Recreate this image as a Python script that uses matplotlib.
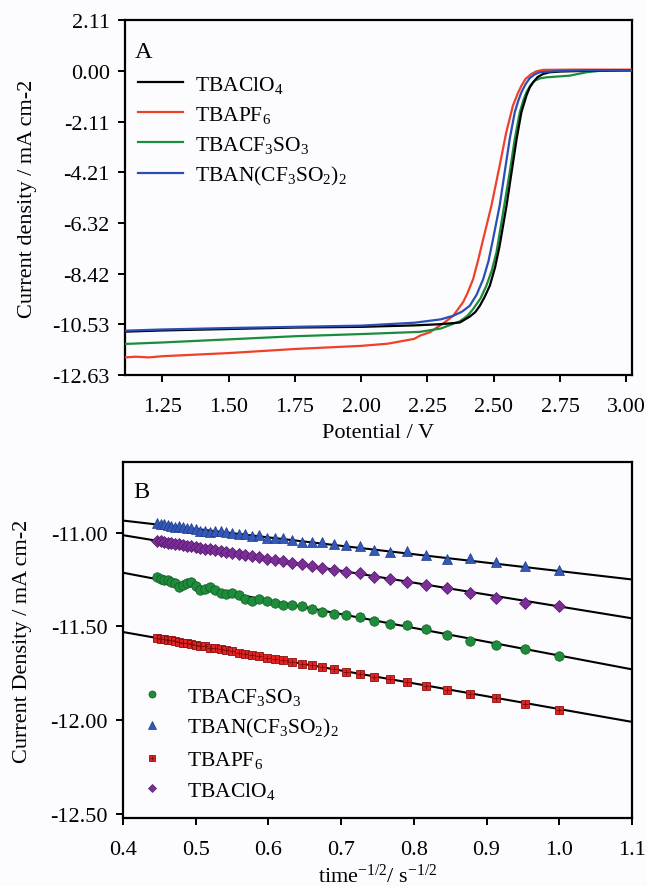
import numpy as np
import matplotlib
matplotlib.use("Agg")
import matplotlib.pyplot as plt
from matplotlib.legend_handler import HandlerTuple

plt.rcParams['font.family'] = ['Liberation Serif', 'DejaVu Serif']
plt.rcParams['mathtext.fontset'] = 'custom'
plt.rcParams['mathtext.rm'] = 'Liberation Serif'
plt.rcParams['mathtext.it'] = 'Liberation Serif:italic'
plt.rcParams['axes.unicode_minus'] = False

# ---- Panel A: linear sweep curves (potential / V, current density / mA cm-2)
pot_clo4 = [1.11, 1.25, 1.50, 1.75, 2.00, 2.20, 2.30, 2.372, 2.41, 2.43, 2.447, 2.465, 2.485,
            2.505, 2.522, 2.548, 2.567, 2.586, 2.604, 2.623, 2.635, 2.648, 2.665, 2.686, 2.71,
            2.749, 2.85, 3.02]
cur_clo4 = [-10.83, -10.78, -10.72, -10.66, -10.63, -10.57, -10.52, -10.45, -10.20, -10.02, -9.76,
            -9.40, -8.92, -8.15, -7.26, -5.60, -4.21, -2.83, -1.72, -1.03, -0.70, -0.48, -0.26,
            -0.13, -0.06, -0.03, 0.0, 0.02]

pot_pf6 = [1.11, 1.15, 1.20, 1.25, 1.50, 1.75, 2.00, 2.10, 2.20, 2.221, 2.26, 2.296, 2.32, 2.347,
           2.384, 2.40, 2.422, 2.44, 2.460, 2.491, 2.522, 2.547, 2.572, 2.590, 2.604, 2.62, 2.642,
           2.66, 2.686, 2.80, 3.02]
cur_pf6 = [-11.90, -11.87, -11.90, -11.85, -11.72, -11.55, -11.42, -11.33, -11.13, -11.00, -10.85,
           -10.58, -10.40, -10.17, -9.61, -9.25, -8.65, -7.90, -6.99, -5.60, -3.94, -2.55, -1.45,
           -0.95, -0.62, -0.33, -0.13, -0.02, 0.04, 0.05, 0.05]

pot_cf3so3 = [1.11, 1.25, 1.50, 1.75, 2.00, 2.22, 2.30, 2.372, 2.40, 2.422, 2.45, 2.472, 2.492,
              2.510, 2.535, 2.560, 2.579, 2.598, 2.612, 2.623, 2.638, 2.654, 2.675, 2.698, 2.786,
              2.849, 2.899, 3.02]
cur_cf3so3 = [-11.34, -11.28, -11.15, -11.02, -10.93, -10.84, -10.70, -10.40, -10.18, -9.89, -9.45,
              -8.92, -8.30, -7.54, -5.88, -4.21, -2.83, -1.72, -1.20, -0.89, -0.60, -0.41, -0.31,
              -0.27, -0.20, -0.06, 0.0, 0.02]

pot_ntf2 = [1.11, 1.25, 1.50, 1.75, 2.00, 2.20, 2.30, 2.347, 2.38, 2.409, 2.435, 2.460, 2.480,
            2.497, 2.522, 2.541, 2.560, 2.579, 2.592, 2.604, 2.62, 2.635, 2.655, 2.673, 2.749,
            2.85, 3.02]
cur_ntf2 = [-10.79, -10.74, -10.68, -10.63, -10.58, -10.46, -10.32, -10.17, -10.00, -9.76, -9.30,
            -8.65, -7.90, -6.99, -5.60, -4.21, -2.83, -1.72, -1.25, -0.89, -0.55, -0.31, -0.14,
            -0.06, 0.0, 0.02, 0.02]

a_yticks = [2.11, 0.00, -2.11, -4.21, -6.32, -8.42, -10.53, -12.63]
a_xticks = [1.25, 1.50, 1.75, 2.00, 2.25, 2.50, 2.75, 3.00]

# ---- Panel B: current density against time^-1/2
inv_sqrt_t = [0.4472, 0.4518, 0.4564, 0.4613, 0.4663, 0.4714, 0.4767, 0.4822, 0.4880, 0.4939,
              0.5000, 0.5064, 0.5130, 0.5199, 0.5270, 0.5345, 0.5423, 0.5505, 0.5590, 0.5680,
              0.5774, 0.5872, 0.5976, 0.6086, 0.6202, 0.6325, 0.6455, 0.6594, 0.6742, 0.6901,
              0.7071, 0.7255, 0.7454, 0.7670, 0.7906, 0.8165, 0.8452, 0.8771, 0.9129, 0.9535,
              1.0000]

j_cf3so3 = [-11.236, -11.250, -11.254, -11.255, -11.262, -11.268, -11.289, -11.282, -11.270, -11.262,
            -11.286, -11.307, -11.300, -11.291, -11.307, -11.324, -11.330, -11.324, -11.335, -11.353,
            -11.365, -11.356, -11.365, -11.378, -11.388, -11.388, -11.392, -11.406, -11.424, -11.436,
            -11.438, -11.448, -11.472, -11.486, -11.495, -11.516, -11.544, -11.576, -11.601, -11.621,
            -11.658]

j_ntf2 = [-10.950, -10.955, -10.957, -10.960, -10.964, -10.968, -10.966, -10.972, -10.976, -10.977,
          -10.980, -10.990, -10.993, -10.995, -10.992, -10.994, -10.998, -11.000, -11.009, -11.010,
          -11.018, -11.014, -11.028, -11.030, -11.030, -11.038, -11.048, -11.049, -11.052, -11.060,
          -11.066, -11.069, -11.091, -11.106, -11.100, -11.120, -11.139, -11.138, -11.158, -11.176,
          -11.200]

j_pf6 = [-11.564, -11.566, -11.569, -11.573, -11.575, -11.580, -11.583, -11.586, -11.591, -11.593,
         -11.598, -11.603, -11.606, -11.613, -11.617, -11.621, -11.628, -11.632, -11.640, -11.646,
         -11.650, -11.657, -11.666, -11.672, -11.681, -11.688, -11.699, -11.706, -11.718, -11.727,
         -11.741, -11.752, -11.770, -11.782, -11.796, -11.817, -11.839, -11.862, -11.879, -11.911,
         -11.945]

j_clo4 = [-11.046, -11.047, -11.051, -11.053, -11.055, -11.059, -11.062, -11.066, -11.069, -11.073,
          -11.077, -11.082, -11.085, -11.090, -11.095, -11.098, -11.104, -11.110, -11.114, -11.121,
          -11.126, -11.132, -11.140, -11.145, -11.154, -11.160, -11.170, -11.177, -11.188, -11.197,
          -11.209, -11.218, -11.238, -11.250, -11.264, -11.278, -11.296, -11.321, -11.348, -11.374,
          -11.392]

# straight-line fits, evaluated at the ends of the axis
fit_x = [0.4, 1.1]
fit_ntf2 = [-10.936, -11.250]
fit_clo4 = [-11.014, -11.457]
fit_cf3so3 = [-11.214, -11.729]
fit_pf6 = [-11.530, -12.009]

b_yticks = [-11.00, -11.50, -12.00, -12.50]
b_xticks = [0.4, 0.5, 0.6, 0.7, 0.8, 0.9, 1.0, 1.1]

fig = plt.figure(figsize=(6.47, 8.87), dpi=100)
fig.patch.set_facecolor('#fcfcfe')

fs = 16


def style_axes(ax):
    ax.set_facecolor('#fcfcfe')
    for sp in ax.spines.values():
        sp.set_linewidth(1.6)
    ax.tick_params(direction='out', length=5, width=1.4, labelsize=fs,
                   top=False, right=False)
    ax.tick_params(axis='y', pad=6)
    ax.tick_params(axis='x', pad=11)


# Panel A
axA = fig.add_axes([0.1932, 0.5761, 0.9768 - 0.1932, 0.9763 - 0.5761])
style_axes(axA)
axA.plot(pot_clo4, cur_clo4, color='black', lw=1.6, label='TBAClO$_4$', zorder=4)
axA.plot(pot_pf6, cur_pf6, color='#f0402a', lw=1.6, label='TBAPF$_6$', zorder=3)
axA.plot(pot_cf3so3, cur_cf3so3, color='#1b8c3c', lw=1.6, label='TBACF$_3$SO$_3$', zorder=3)
axA.plot(pot_ntf2, cur_ntf2, color='#2a4fb4', lw=1.6, label='TBAN(CF$_3$SO$_2$)$_2$', zorder=5)
axA.set_xlim(1.1095, 3.021)
axA.set_ylim(-12.63, 2.11)
axA.set_yticks(a_yticks)
axA.set_yticklabels(['%.2f' % v for v in a_yticks])
axA.set_xticks(a_xticks)
axA.set_xticklabels(['%.2f' % v for v in a_xticks])
axA.set_xlabel('Potential / V', fontsize=fs, labelpad=5)
axA.set_ylabel('Current density / mA cm-2', fontsize=fs, labelpad=11)
axA.text(0.02, 0.896, 'A', transform=axA.transAxes, fontsize=17.5)
axA.legend(loc='upper left', bbox_to_anchor=(0.0, 0.885), frameon=False, fontsize=fs - 0.5,
           handlelength=2.1, handletextpad=0.55, labelspacing=0.42, borderaxespad=0.2)

# Panel B
axB = fig.add_axes([0.1901, 0.0767, 0.9768 - 0.1901, 0.478 - 0.0767])
style_axes(axB)
for fy in (fit_ntf2, fit_clo4, fit_cf3so3, fit_pf6):
    axB.plot(fit_x, fy, color='black', lw=1.5, zorder=2)

h_cf = axB.plot(inv_sqrt_t, j_cf3so3, 'o', ms=6.8, color='#1e8c3a', mec='#0f5a22', mew=0.5,
                ls='none', zorder=3)[0]
h_nt = axB.plot(inv_sqrt_t, j_ntf2, '^', ms=6.8, color='#3358b8', mec='#1d3a8a', mew=0.5,
                ls='none', zorder=3)[0]
h_pf = axB.plot(inv_sqrt_t, j_pf6, 's', ms=5.4, color='#e32222', mec='#8a1010', mew=0.6,
                ls='none', zorder=3)[0]
h_pf_x = axB.plot(inv_sqrt_t, j_pf6, '+', ms=4.6, color='#7a0c0c', mew=0.6,
                  ls='none', zorder=4)[0]
h_cl = axB.plot(inv_sqrt_t, j_clo4, 'D', ms=6.0, color='#7b2d98', mec='#4e1a66', mew=0.5,
                ls='none', zorder=3)[0]

axB.set_xlim(0.4, 1.1)
axB.set_ylim(-12.521, -10.624)
axB.set_yticks(b_yticks)
axB.set_yticklabels(['%.2f' % v for v in b_yticks])
axB.set_xticks(b_xticks)
axB.set_xticklabels(['%.1f' % v for v in b_xticks])
axB.set_xlabel('time$^{-1/2}$/ s$^{-1/2}$', fontsize=fs, labelpad=3)
axB.set_ylabel('Current Density / mA cm-2', fontsize=fs, labelpad=13)
axB.text(0.02, 0.902, 'B', transform=axB.transAxes, fontsize=17.5)
axB.legend([h_cf, h_nt, (h_pf, h_pf_x), h_cl],
           ['TBACF$_3$SO$_3$', 'TBAN(CF$_3$SO$_2$)$_2$', 'TBAPF$_6$', 'TBAClO$_4$'],
           handler_map={tuple: HandlerTuple(ndivide=1, pad=0)},
           loc='upper left', bbox_to_anchor=(-0.01, 0.408), frameon=False, fontsize=fs - 0.5,
           markerscale=0.75, handlelength=2.0, handletextpad=0.6, labelspacing=0.45,
           borderaxespad=0.2)

fig.savefig('out.png', dpi=100, facecolor=fig.get_facecolor())
